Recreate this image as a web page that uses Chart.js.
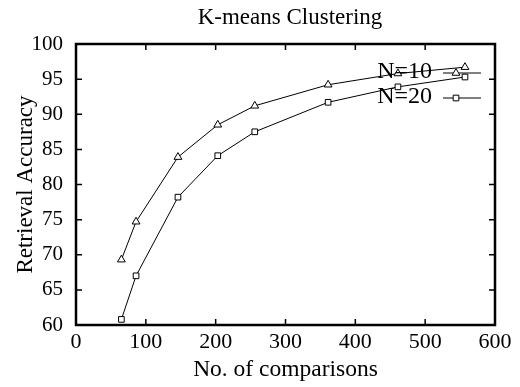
<!DOCTYPE html>
<html>
<head>
<meta charset="utf-8">
<script src="https://cdn.jsdelivr.net/npm/chart.js@4/dist/chart.umd.min.js"></script>
<style>
  html, body { margin: 0; padding: 0; background: #fff; }
  #wrap { width: 520px; height: 387px; }
</style>
</head>
<body>
<div id="wrap"><canvas id="kmeansChart"></canvas></div>
<script>
// data
const comparisons = [65, 86, 146, 203, 256, 361, 461, 557];
const accN10 = [69.3, 74.7, 83.9, 88.5, 91.2, 94.2, 95.8, 96.7];
const accN20 = [60.8, 67.0, 78.2, 84.1, 87.5, 91.7, 93.9, 95.3];
const seriesLabels = ['N=10', 'N=20'];
const xTicks = [0, 100, 200, 300, 400, 500, 600];
const yTicks = [60, 65, 70, 75, 80, 85, 90, 95, 100];

const serif = 'Liberation Serif, Times New Roman, serif';

function toPoints(xs, ys) {
    return xs.map((x, i) => ({ x: x, y: ys[i] }));
}

// frame, inner ticks on all four sides, title and the legend inside the plot
const framePlugin = {
    id: 'frame',
    afterDraw(chart) {
        const ctx = chart.ctx;
        const a = chart.chartArea;
        const xs = chart.scales.x, ys = chart.scales.y;
        ctx.save();
        ctx.strokeStyle = '#000';
        ctx.lineWidth = 1.5;
        const t = 6;
        ctx.beginPath();
        xTicks.forEach(v => {
            const p = xs.getPixelForValue(v);
            ctx.moveTo(p, a.bottom); ctx.lineTo(p, a.bottom - t);
            ctx.moveTo(p, a.top); ctx.lineTo(p, a.top + t);
        });
        yTicks.forEach(v => {
            const p = ys.getPixelForValue(v);
            ctx.moveTo(a.left, p); ctx.lineTo(a.left + t, p);
            ctx.moveTo(a.right, p); ctx.lineTo(a.right - t, p);
        });
        ctx.stroke();
        ctx.lineWidth = 2.5;
        ctx.strokeRect(a.left, a.top, a.right - a.left, a.bottom - a.top);

        // title
        ctx.fillStyle = '#000';
        ctx.font = '23px ' + serif;
        ctx.textAlign = 'center';
        ctx.textBaseline = 'middle';
        ctx.fillText('K-means Clustering', 290, 18);

        // legend
        ctx.font = '24px ' + serif;
        ctx.textAlign = 'right';
        chart.data.datasets.forEach((ds, i) => {
            const y = 73 + i * 25;
            ctx.fillStyle = '#000';
            ctx.fillText(ds.label, 432, y - 1);
            ctx.lineWidth = 1;
            ctx.beginPath();
            ctx.moveTo(443, y); ctx.lineTo(481, y);
            ctx.stroke();
            ctx.fillStyle = '#fff';
            Chart.helpers.drawPoint(ctx, {
                pointStyle: ds.pointStyle,
                radius: ds.pointRadius,
                borderWidth: 1
            }, 456, y);
        });
        ctx.restore();
    }
};

const ctx = document.getElementById('kmeansChart');
new Chart(ctx.getContext('2d'), {
    type: 'line',
    data: {
        datasets: [
            {
                label: seriesLabels[0],
                data: toPoints(comparisons, accN10),
                borderColor: '#000',
                borderWidth: 1,
                backgroundColor: '#fff',
                pointStyle: 'triangle',
                pointRadius: 4.5,
                pointBorderWidth: 1,
                pointBorderColor: '#000',
                pointBackgroundColor: '#fff',
                tension: 0
            },
            {
                label: seriesLabels[1],
                data: toPoints(comparisons, accN20),
                borderColor: '#000',
                borderWidth: 1,
                backgroundColor: '#fff',
                pointStyle: 'rect',
                pointRadius: 4,
                pointBorderWidth: 1,
                pointBorderColor: '#000',
                pointBackgroundColor: '#fff',
                tension: 0
            }
        ]
    },
    options: {
        responsive: true,
        maintainAspectRatio: false,
        animation: false,
        layout: { padding: { top: 44, right: 25, left: 0, bottom: 0 } },
        plugins: {
            legend: { display: false },
            title: { display: false },
            tooltip: { enabled: false }
        },
        scales: {
            x: {
                type: 'linear',
                min: 0, max: 600,
                afterFit(s) { s.height = 62; },
                afterBuildTicks(s) { s.ticks = xTicks.map(v => ({ value: v })); },
                grid: { display: false, drawTicks: false },
                border: { display: false },
                ticks: {
                    color: '#000',
                    padding: 4,
                    maxRotation: 0,
                    font: { family: serif, size: 22 }
                },
                title: {
                    display: true,
                    text: 'No. of comparisons',
                    color: '#000',
                    padding: { top: 0, bottom: 3 },
                    font: { family: serif, size: 23.5 }
                }
            },
            y: {
                type: 'linear',
                min: 60, max: 100,
                afterFit(s) { s.width = 76; },
                afterBuildTicks(s) { s.ticks = yTicks.map(v => ({ value: v })); },
                grid: { display: false, drawTicks: false },
                border: { display: false },
                ticks: {
                    color: '#000',
                    padding: 13,
                    font: { family: serif, size: 21 }
                },
                title: {
                    display: true,
                    text: 'Retrieval Accuracy',
                    color: '#000',
                    padding: { top: 12, bottom: 0 },
                    font: { family: serif, size: 23 }
                }
            }
        }
    },
    plugins: [framePlugin]
});
</script>
</body>
</html>
